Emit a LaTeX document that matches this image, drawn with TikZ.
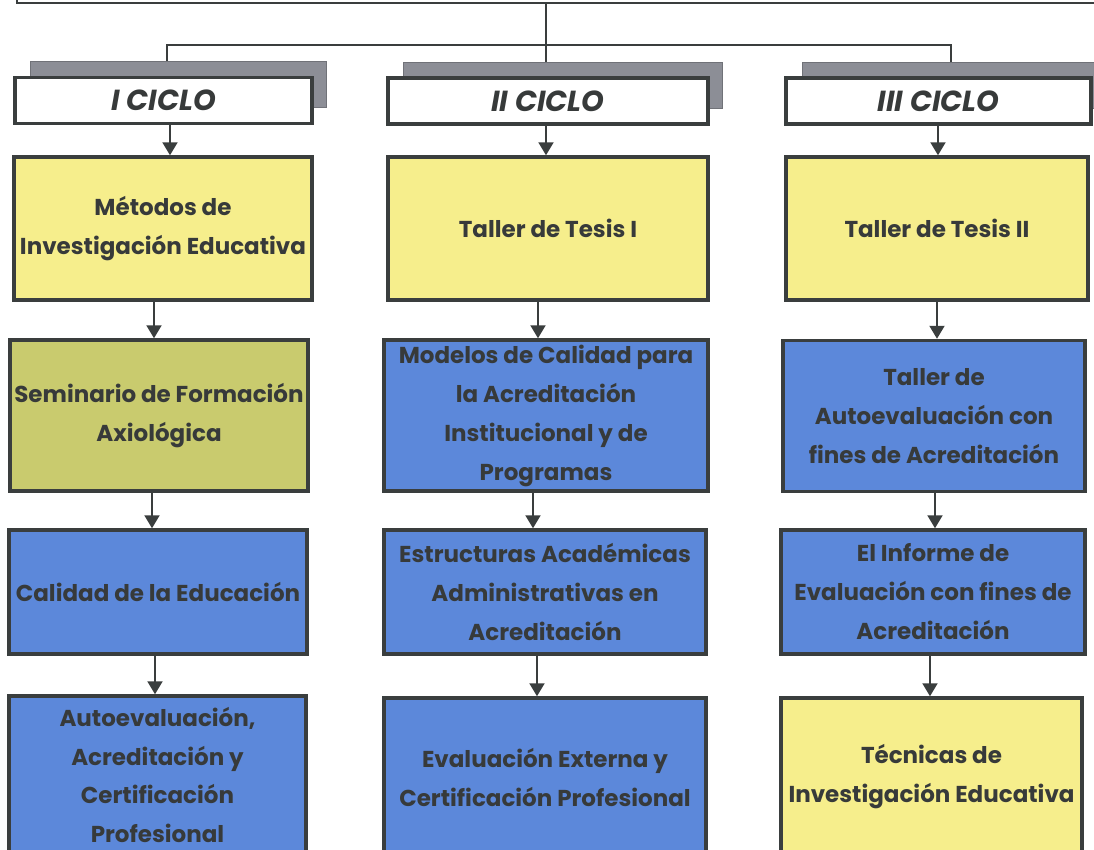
\documentclass[tikz,border=0pt]{standalone}
\usepackage{fontspec}
\setmainfont{Poppins}
\usetikzlibrary{arrows.meta}
\definecolor{ink}{RGB}{58,62,62}
\definecolor{txt}{RGB}{55,58,58}
\definecolor{yel}{RGB}{246,238,140}
\definecolor{oli}{RGB}{201,203,110}
\definecolor{blu}{RGB}{92,136,218}
\definecolor{shd}{RGB}{140,142,150}
\tikzset{
  box/.style={draw=ink, line width=3.5pt, inner sep=2pt, align=center, text=txt,
    font=\bfseries\fontsize{23}{39}\selectfont},
  hdr/.style={draw=ink, line width=3.5pt, fill=white, align=center, text=txt,
    minimum height=46pt, font=\bfseries\itshape\fontsize{29}{31}\selectfont},
  shadowbox/.style={draw=shd!80!black, line width=1pt, fill=shd, minimum height=46pt},
  conn/.style={draw=ink, line width=2pt},
  arr/.style={draw=ink, line width=2pt, -{Triangle[width=15pt,length=13pt]}, color=ink},
}
\begin{document}
\begin{tikzpicture}[x=1pt,y=-1pt]
\useasboundingbox (0,0) rectangle (1094,849);
\clip (0,0) rectangle (1094,849);
% partial top box
\node[draw=ink, line width=2.5pt, minimum width=1100pt, minimum height=60pt, inner sep=0] (root) at (567,-27) {};
% shadows
\node[shadowbox, minimum width=296pt] (s1) at (178,84.5) {};
\node[shadowbox, minimum width=319pt] (s2) at (562.5,85) {};
\node[shadowbox, minimum width=303pt] (s3) at (953.5,85) {};
% headers
\node[hdr, minimum width=297pt] (h1) at (163.5,100.5) {I CICLO};
\node[hdr, minimum width=320pt] (h2) at (548,101) {II CICLO};
\node[hdr, minimum width=305pt] (h3) at (938.5,101) {III CICLO};
% tree lines
\coordinate (bl) at (167,45);
\coordinate (br) at (951,45);
\coordinate (bm) at (546,45);
\draw[conn] (bl |- s1.north) -- (bl) -- (br) -- (br |- s3.north);
\draw[conn] (bm |- root.south) -- (bm |- s2.north);
% row 1
\node[box, fill=yel, minimum width=298pt, minimum height=143pt] (r11) at (163,228.5) {Métodos de\\Investigación Educativa};
\node[box, fill=yel, minimum width=320pt, minimum height=143pt] (r12) at (548,228.5) {Taller de Tesis I};
\node[box, fill=yel, minimum width=302pt, minimum height=143pt] (r13) at (937,228.5) {Taller de Tesis II};
% row 2
\node[box, fill=oli, minimum width=298pt, minimum height=151pt] (r21) at (159,415.5) {Seminario de Formación\\Axiológica};
\node[box, fill=blu, minimum width=324pt, minimum height=151pt] (r22) at (546,415.5) {Modelos de Calidad para\\la Acreditación\\Institucional y de\\Programas};
\node[box, fill=blu, minimum width=302pt, minimum height=151pt] (r23) at (934,416) {Taller de\\Autoevaluación con\\fines de Acreditación};
% row 3
\node[box, fill=blu, minimum width=298pt, minimum height=124pt] (r31) at (158,592) {Calidad de la Educación};
\node[box, fill=blu, minimum width=322pt, minimum height=124pt] (r32) at (545,592) {Estructuras Académicas\\Administrativas en\\Acreditación};
\node[box, fill=blu, minimum width=304pt, minimum height=124pt] (r33) at (933,592) {El Informe de\\Evaluación con fines de\\Acreditación};
% row 4
\node[box, fill=blu, minimum width=297pt, minimum height=158pt, font=\bfseries\fontsize{23}{38.5}\selectfont] (r41) at (157.5,775) {Autoevaluación,\\Acreditación y\\Certificación\\Profesional};
\node[box, fill=blu, minimum width=322pt, minimum height=158pt] (r42) at (545,777) {Evaluación Externa y\\Certificación Profesional};
\node[box, fill=yel, minimum width=301pt, minimum height=158pt] (r43) at (931.5,777) {Técnicas de\\Investigación Educativa};
% arrows column 1
\draw[arr] ([xshift=6.5pt]h1.south) -- ([xshift=7pt]r11.north);
\draw[arr] ([xshift=-9pt]r11.south) -- ([xshift=-5pt]r21.north);
\draw[arr] ([xshift=-7pt]r21.south) -- ([xshift=-6pt]r31.north);
\draw[arr] ([xshift=-3pt]r31.south) -- ([xshift=-2.5pt]r41.north);
% arrows column 2
\draw[arr] ([xshift=-2pt]h2.south) -- ([xshift=-2pt]r12.north);
\draw[arr] ([xshift=-10pt]r12.south) -- ([xshift=-8pt]r22.north);
\draw[arr] ([xshift=-13pt]r22.south) -- ([xshift=-12pt]r32.north);
\draw[arr] ([xshift=-8pt]r32.south) -- ([xshift=-8pt]r42.north);
% arrows column 3
\draw[arr] ([xshift=-0.5pt]h3.south) -- ([xshift=1pt]r13.north);
\draw[arr] ([xshift=0pt]r13.south) -- ([xshift=3pt]r23.north);
\draw[arr] ([xshift=1pt]r23.south) -- ([xshift=2pt]r33.north);
\draw[arr] ([xshift=-3pt]r33.south) -- ([xshift=-1.5pt]r43.north);
\end{tikzpicture}
\end{document}
